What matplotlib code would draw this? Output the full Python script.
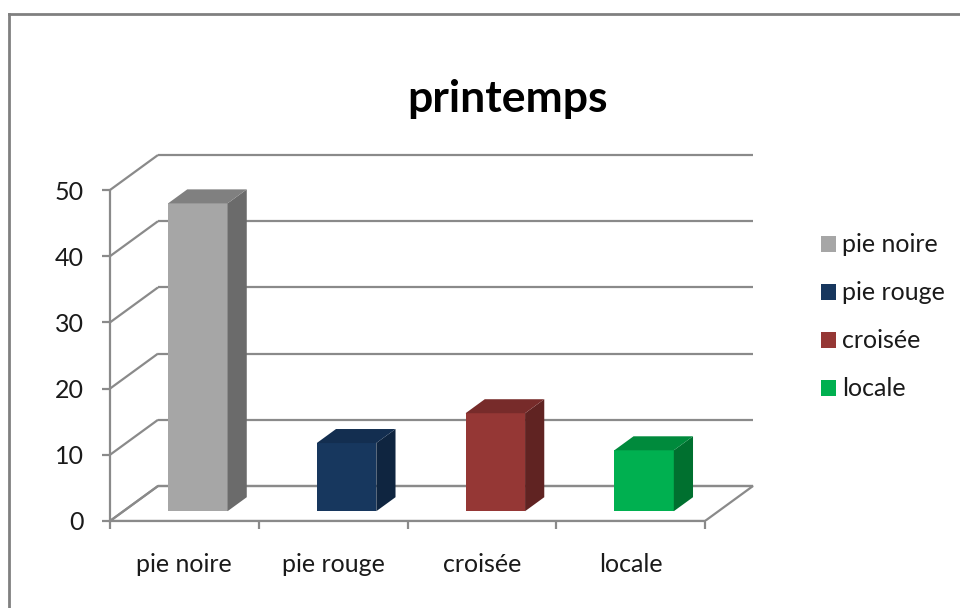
import matplotlib
matplotlib.use("Agg")
import matplotlib.pyplot as plt
from matplotlib.patches import Polygon, Patch
from matplotlib.lines import Line2D

plt.rcParams['font.family'] = ['Lato', 'DejaVu Sans']

title = "printemps"
categories = ["pie noire", "pie rouge", "croisée", "locale"]
values = [46.5, 10.3, 14.8, 9.2]
front_colors = ["#a6a6a6", "#17375e", "#953735", "#00b050"]
side_colors = ["#6b6b6b", "#0f2540", "#602322", "#00702f"]
top_colors = ["#808080", "#132e50", "#772b2a", "#008a3c"]
yticks = [0, 10, 20, 30, 40, 50]

W, H = 960, 608
fig = plt.figure(figsize=(W / 100, H / 100), dpi=100)
fig.patch.set_facecolor("white")

# axes placement in pixels
L, R, T, B = 110, 760, 150, 521
ax = fig.add_axes([L / W, (H - B) / H, (R - L) / W, (B - T) / H])
cat_px = 148.75
val_px = 6.62
ax.set_xlim(-0.5, -0.5 + (R - L) / cat_px)
ax.set_ylim(0, (B - T) / val_px)
ax.set_facecolor("none")

DX = 48 / cat_px   # depth offset in category units
DY = 35 / val_px   # depth offset in value units
grid_c = "#8a8a8a"
glw = 1.6
x0, x1 = -0.5, len(categories) - 0.5

# floor
floor = Polygon([(x0, 0), (x1, 0), (x1 + DX, DY), (x0 + DX, DY)], closed=True,
                facecolor="white", edgecolor=grid_c, lw=glw, zorder=1)
ax.add_patch(floor)
# walls gridlines
for v in yticks:
    ax.plot([x0, x0 + DX], [v, v + DY], color=grid_c, lw=glw, zorder=2, solid_capstyle="butt")
    ax.plot([x0 + DX, x1 + DX], [v + DY, v + DY], color=grid_c, lw=glw, zorder=2, solid_capstyle="butt")

# bars
bw = 0.4
f0, f1 = 0.28, 0.68
for i, v in enumerate(values):
    ox, oy = f0 * DX, f0 * DY
    dx, dy = (f1 - f0) * DX, (f1 - f0) * DY
    xl, xr = i - bw / 2 + ox, i + bw / 2 + ox
    yb, yt = oy, oy + v
    front = Polygon([(xl, yb), (xr, yb), (xr, yt), (xl, yt)], closed=True,
                    facecolor=front_colors[i], edgecolor="none", zorder=5)
    side = Polygon([(xr, yb), (xr + dx, yb + dy), (xr + dx, yt + dy), (xr, yt)], closed=True,
                   facecolor=side_colors[i], edgecolor="none", zorder=5)
    top = Polygon([(xl, yt), (xr, yt), (xr + dx, yt + dy), (xl + dx, yt + dy)], closed=True,
                  facecolor=top_colors[i], edgecolor="none", zorder=5)
    for p in (front, side, top):
        ax.add_patch(p)

# axes/spines
for s in ("top", "right"):
    ax.spines[s].set_visible(False)
ax.spines["left"].set_bounds(0, 50)
ax.spines["bottom"].set_bounds(x0, x1)
for s in ("left", "bottom"):
    ax.spines[s].set_color(grid_c)
    ax.spines[s].set_linewidth(glw)
    ax.spines[s].set_zorder(3)

ax.set_yticks(yticks)
ax.set_yticklabels([str(t) for t in yticks])
ax.tick_params(axis="y", direction="out", length=6, width=glw, color=grid_c,
               pad=13, labelsize=18, labelcolor="#1a1a1a")
ax.set_xticks([x0 + k for k in range(len(categories) + 1)])
ax.set_xticklabels([])
ax.tick_params(axis="x", which="major", direction="out", length=6, width=glw, color=grid_c)
ax.set_xticks(range(len(categories)), minor=True)
ax.set_xticklabels(categories, minor=True)
ax.tick_params(axis="x", which="minor", length=0, pad=23, labelsize=18, labelcolor="#1a1a1a")

fig.text(508 / W, 1 - 99 / H, title, ha="center", va="center", fontsize=32,
         fontweight="bold", color="black")

handles = [Patch(facecolor=c, edgecolor="none") for c in front_colors]
leg = fig.legend(handles, categories, loc="upper left",
                 bbox_to_anchor=(808 / W, 1 - 221 / H), frameon=False,
                 fontsize=18, handlelength=0.6, handleheight=0.6,
                 handletextpad=0.25, labelspacing=1.0, borderpad=0)
for t in leg.get_texts():
    t.set_color("#1a1a1a")

# outer border
fig.add_artist(Line2D([9 / W, 9 / W], [0, 1 - 14 / H], color="#808080", lw=2, transform=fig.transFigure))
fig.add_artist(Line2D([9 / W, 1], [1 - 14 / H, 1 - 14 / H], color="#808080", lw=2, transform=fig.transFigure))

fig.savefig("out.png", dpi=100)
